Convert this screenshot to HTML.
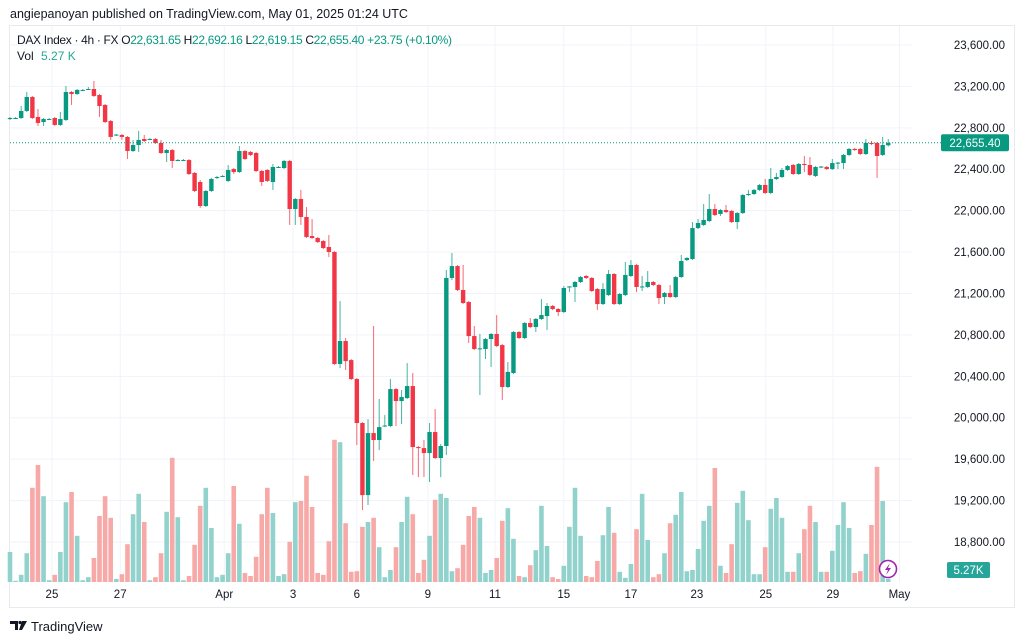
<!DOCTYPE html>
<html><head><meta charset="utf-8"><style>
body{margin:0;background:#fff;font-family:"Liberation Sans",sans-serif;}
#wrap{position:relative;width:1024px;height:641px;overflow:hidden;background:#fff}
svg text{font-family:"Liberation Sans",sans-serif}
</style></head><body>
<div id="wrap">
<svg id="chart" width="1024" height="641">
<text x="10" y="18" font-size="12.5" fill="#131722">angiepanoyan published on TradingView.com, May 01, 2025 01:24 UTC</text>
<rect x="9.5" y="25.5" width="1005" height="582" fill="none" stroke="#e8eaee"/>
<g id="grid"></g>
<g id="vol"></g>
<g id="candles"></g>
<g id="yaxis"></g>
<g id="xaxis"></g>
<text x="17" y="44" font-size="12" fill="#131722" textLength="435" lengthAdjust="spacing">DAX Index · 4h · FX <tspan fill="#131722">O</tspan><tspan fill="#089981">22,631.65</tspan> <tspan fill="#131722">H</tspan><tspan fill="#089981">22,692.16</tspan> <tspan fill="#131722">L</tspan><tspan fill="#089981">22,619.15</tspan> <tspan fill="#131722">C</tspan><tspan fill="#089981">22,655.40 +23.75 (+0.10%)</tspan></text>
<text x="17" y="60" font-size="12" fill="#131722">Vol <tspan fill="#26a69a" dx="4">5.27 K</tspan></text>
<g><circle cx="888" cy="569" r="8.5" fill="#fff" stroke="#9c27b0" stroke-width="1.6"/><path d="M890 563 L885 570 L888 570 L886 575 L891 568 L888 568 Z" fill="#9c27b0"/></g>
<g><path d="M10 621 h8 v9 h-3 v-6 h-5 z" fill="#131722"/><circle cx="20" cy="622.5" r="1.6" fill="#131722"/><path d="M22 621 h5 l-5 9 h-3 z" fill="#131722"/><text x="31" y="631" font-size="13" fill="#131722">TradingView</text></g>
</svg>
</div>
<script>
const openP=[22885,22895,22895,22963,23098,22905,22856,22885,22895,22828,22876,23146,23127,23166,23166,23175,23117,23021,22866,22731,22731,22712,22576,22634,22692,22692,22692,22654,22557,22586,22489,22489,22489,22364,22277,22045,22190,22316,22335,22287,22402,22373,22576,22567,22557,22383,22393,22277,22422,22412,22480,22016,22113,21939,21755,21736,21707,21649,21601,20519,20741,20557,20374,19949,19253,19852,19785,19920,19920,20277,20161,20190,20306,19717,19707,19659,19862,19611,19727,21350,21465,21234,21118,20789,20664,20664,20760,20809,20702,20297,20432,20828,20770,20915,20876,20954,20982,21079,21050,21021,21263,21263,21311,21369,21350,21243,21098,21185,21388,21098,21185,21369,21475,21263,21263,21311,21282,21166,21205,21166,21359,21523,21533,21832,21862,21900,22016,21968,22006,21997,21890,21977,22151,22161,22200,22248,22171,22306,22325,22393,22441,22354,22451,22441,22335,22422,22422,22402,22460,22460,22538,22596,22596,22547,22654,22654,22538,22631.65];
const closeP=[22895,22895,22963,23098,22895,22847,22885,22885,22828,22885,23146,23127,23166,23166,23175,23108,23011,22856,22712,22735,22712,22576,22634,22683,22673,22692,22654,22557,22586,22480,22489,22489,22354,22190,22045,22190,22306,22325,22335,22393,22373,22576,22499,22538,22383,22277,22287,22422,22422,22480,22016,22113,21939,21746,21736,21697,21639,21601,20519,20741,20547,20374,19949,19253,19852,19785,19910,19925,20277,20161,20200,20306,19717,19707,19659,19862,19611,19727,21350,21465,21234,21108,20789,20664,20670,20760,20809,20693,20297,20442,20828,20770,20915,20876,20954,20992,21079,21050,21021,21253,21268,21311,21359,21350,21224,21098,21243,21388,21098,21195,21379,21475,21263,21268,21311,21282,21156,21205,21166,21359,21514,21543,21832,21881,21910,22016,21958,22006,21987,21890,21977,22151,22161,22200,22248,22171,22306,22325,22393,22431,22354,22451,22441,22345,22422,22426,22402,22460,22464,22538,22596,22586,22547,22654,22644,22528,22634,22655.40];
const highP=[22905,22905,23011,23146,23108,22982,22895,22895,22905,22953,23204,23156,23175,23175,23195,23253,23127,23030,22876,22741,22741,22721,22683,22770,22731,22702,22702,22683,22596,22596,22499,22499,22499,22373,22296,22200,22316,22335,22345,22441,22412,22625,22586,22576,22567,22393,22402,22451,22431,22489,22489,22122,22200,22035,21919,21746,21717,21765,21610,21127,20770,20567,20384,19958,19987,20886,20181,20026,20374,20287,20268,20528,20432,19727,19785,19949,20084,19746,21427,21591,21475,21475,21127,20886,20809,20770,20818,20992,20712,20538,20837,20837,20924,20963,20963,21147,21108,21089,21060,21272,21272,21321,21369,21379,21359,21253,21301,21427,21398,21205,21504,21523,21485,21369,21417,21321,21292,21214,21282,21369,21572,21552,21890,21919,22064,22161,22064,22016,22055,22006,21987,22161,22200,22209,22258,22306,22412,22364,22412,22441,22451,22460,22528,22518,22431,22431,22431,22499,22470,22547,22605,22605,22605,22692,22673,22663,22712,22692.16];
const lowP=[22876,22885,22885,22953,22885,22818,22818,22876,22818,22818,22866,23021,23117,23156,23166,23098,22905,22847,22683,22721,22683,22499,22567,22567,22663,22683,22644,22547,22470,22412,22480,22480,22345,22180,22026,22035,22180,22306,22325,22277,22354,22364,22489,22528,22373,22238,22277,22200,22412,22402,21862,21862,21862,21736,21726,21688,21630,21552,20509,20480,20461,20364,19736,19108,19157,19582,19688,19910,19910,19920,19939,20181,19447,19427,19427,19379,19601,19427,19640,21330,21224,21098,20722,20654,20219,20567,20490,20683,20171,20287,20422,20760,20760,20866,20828,20944,20847,21040,20982,21011,21214,21118,21301,21340,21214,21040,21089,21176,21089,21089,21176,21359,21214,21224,21253,21272,21098,21098,21156,21156,21350,21514,21523,21823,21852,21890,21948,21948,21977,21881,21823,21968,22142,22151,22190,22161,22161,22296,22316,22383,22345,22345,22373,22335,22325,22412,22393,22393,22402,22402,22528,22576,22538,22538,22634,22316,22528,22619.15];
const volumes=[50,2,12,48,157,195,143,3,12,50,133,150,77,3,8,40,110,143,107,5,13,63,113,147,100,3,8,48,117,207,108,3,10,62,127,157,90,8,12,48,160,97,15,10,42,113,157,115,10,13,67,133,
135,177,125,15,12,68,237,233,98,17,18,92,100,107,58,8,20,58,100,142,113,15,37,77,137,147,140,18,23,62,110,125,107,15,20,40,102,123,72,10,8,28,53,127,60,8,5,27,92,157,77,10,8,
35,78,125,82,17,7,30,88,147,70,8,13,48,98,112,150,18,20,55,102,127,190,27,15,63,132,152,103,13,13,58,122,140,107,17,17,48,88,127,100,17,17,52,95,133,90,15,18,47,95,192,135,5.27];
const priceTicks=[23600,23200,22800,22400,22000,21600,21200,20800,20400,20000,19600,19200,18800];
const dateLabels=["25","27","Apr","3","6","9","11","15","17","23","25","29","May"];
const datePos=[7.5,19.7,38.3,50.6,62,74.7,86.7,99,111,122.8,135.1,147.1,159];
const lastPrice=22655.40;
const lastVolLabel="5.27K";

const NS="http://www.w3.org/2000/svg";
const x0=10, step=5.594;
const xS=i=>x0+i*step;
const yP=p=>45+(23600-p)*0.10354;
const yV=v=>582-v*0.6;
function mk(tag,attrs,parent){const e=document.createElementNS(NS,tag);for(const k in attrs)e.setAttribute(k,attrs[k]);parent.appendChild(e);return e;}
const grid=document.getElementById('grid'),vol=document.getElementById('vol'),cg=document.getElementById('candles'),ya=document.getElementById('yaxis'),xa=document.getElementById('xaxis');
priceTicks.forEach(p=>{
  const l=mk('line',{x1:10,x2:912,y1:yP(p),y2:yP(p),stroke:'#f0f3fa'},grid);
  
  
  const t=mk('text',{x:1005,y:yP(p)+4,'text-anchor':'end','font-size':'11.5',fill:'#131722'},ya);
  t.textContent=p.toLocaleString('en-US',{minimumFractionDigits:2});
  
  
});
dateLabels.forEach((d,i)=>{
  const x=xS(datePos[i]);
  const l=mk('line',{x1:x,x2:x,y1:26,y2:582,stroke:'#f0f3fa'},grid);
  
  
  const t=mk('text',{x:x,y:598,'text-anchor':'middle','font-size':'11.5',fill:'#131722'},xa);
  t.textContent=d;
  
  
});
volumes.forEach((v,i)=>{
  const up=closeP[i]>=openP[i];
  const r=mk('rect',{x:xS(i)-2.3,y:yV(v),width:4.6,height:582-yV(v),fill:up?'#92d2cc':'#f7a9a7'},vol);
  
  
});
openP.forEach((o,i)=>{
  const c=closeP[i],up=c>=o,col=up?'#089981':'#f23645',x=xS(i);
  const g=mk('g',{},cg);
  
  
  mk('line',{x1:x,x2:x,y1:yP(highP[i]),y2:yP(lowP[i]),stroke:col,'stroke-width':1,'stroke-opacity':0.75},g);
  const top=yP(Math.max(o,c)),h=Math.max(1,Math.abs(yP(o)-yP(c)));
  mk('rect',{x:x-2.2,y:top,width:4.4,height:h,fill:col},g);
});
const ly=yP(lastPrice);
const dl=mk('line',{x1:10,x2:941,y1:ly,y2:ly,stroke:'#089981','stroke-dasharray':'1 2','stroke-width':1},cg);


const lb=mk('rect',{x:941,y:ly-8.5,width:68,height:17,rx:2,fill:'#089981'},ya);


const lt=mk('text',{x:975,y:ly+4,'text-anchor':'middle','font-size':'11.5',fill:'#fff'},ya);
lt.textContent=lastPrice.toLocaleString('en-US',{minimumFractionDigits:2});


const vb=mk('rect',{x:947,y:562,width:43,height:16,rx:2,fill:'#26a69a'},ya);


const vt=mk('text',{x:968.5,y:574,'text-anchor':'middle','font-size':'11.5',fill:'#fff'},ya);
vt.textContent=lastVolLabel;


</script>
</body></html>
